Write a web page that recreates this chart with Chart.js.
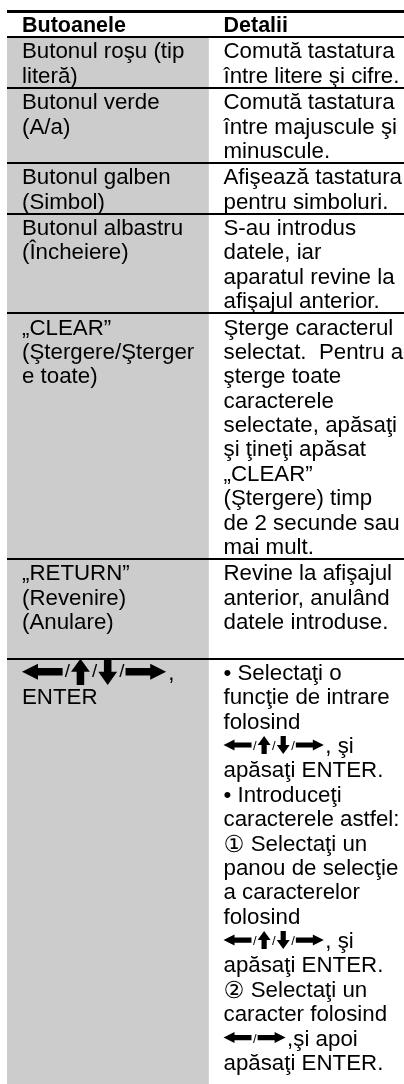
<!DOCTYPE html>
<html>
<head>
<meta charset="utf-8">
<script src="https://cdn.jsdelivr.net/npm/chart.js"></script>
<style>
  html, body { margin: 0; padding: 0; background: #fff; overflow: hidden; }
  #wrap { position: relative; width: 410px; height: 1084px; }
</style>
</head>
<body>
<div id="wrap"><canvas id="table"></canvas></div>
<script>
// ========== DATA ==========
const columns = ["Butoanele", "Detalii"];

const buttons = [
  ["Butonul roşu (tip", "literă)"],
  ["Butonul verde", "(A/a)"],
  ["Butonul galben", "(Simbol)"],
  ["Butonul albastru", "(Încheiere)"],
  ["„CLEAR”", "(Ştergere/Şterger", "e toate)"],
  ["„RETURN”", "(Revenire)", "(Anulare)"],
  ["←/↑/↓/→,", "ENTER"],
];

const details = [
  ["Comută tastatura", "între litere şi cifre."],
  ["Comută tastatura", "între majuscule şi", "minuscule."],
  ["Afişează tastatura", "pentru simboluri."],
  ["S-au introdus", "datele, iar", "aparatul revine la", "afişajul anterior."],
  ["Şterge caracterul", "selectat.  Pentru a", "şterge toate", "caracterele",
   "selectate, apăsaţi", "şi ţineţi apăsat", "„CLEAR”", "(Ştergere) timp",
   "de 2 secunde sau", "mai mult."],
  ["Revine la afişajul", "anterior, anulând", "datele introduse.", ""],
  ["• Selectaţi o", "funcţie de intrare", "folosind", "←/↑/↓/→, şi",
   "apăsaţi ENTER.", "• Introduceţi", "caracterele astfel:", "① Selectaţi un",
   "panou de selecţie", "a caracterelor", "folosind", "←/↑/↓/→, şi",
   "apăsaţi ENTER.", "② Selectaţi un", "caracter folosind", "←/→,şi apoi",
   "apăsaţi ENTER."],
];

// ========== LAYOUT (line units on the y scale) ==========
const ROW_PAD = 0.08;
const TAIL = 0.36;
const FONT = '"Liberation Sans", Arial, sans-serif';
const FS = 22.3;

const rows = [[[columns[0]], [columns[1]]]].concat(buttons.map((b, i) => [b, details[i]]));
const rowEdges = [0];
rows.forEach((r) => {
  const n = Math.max(r[0].length, r[1].length);
  rowEdges.push(rowEdges[rowEdges.length - 1] + n + ROW_PAD);
});
const yMax = rowEdges[rowEdges.length - 1] + TAIL;

// ========== DRAW HELPERS ==========
function drawArrow(ctx, dir, x, cy, s) {
  ctx.beginPath();
  if (dir === "←" || dir === "→") {
    const L = 28 * s, hl = 11 * s, hh = 5.5 * s, t = 2.6 * s;
    const pts = [[0, -t], [L - hl, -t], [L - hl, -hh], [L, 0], [L - hl, hh], [L - hl, t], [0, t]];
    pts.forEach(([px, py], i) => {
      const X = dir === "→" ? x + px : x + L - px;
      i ? ctx.lineTo(X, cy + py) : ctx.moveTo(X, cy + py);
    });
    ctx.closePath();
    ctx.fill();
    return L + 1.5 * s;
  }
  const H = 18 * s, hl = 9 * s, hw = 6.5 * s, t = 2.6 * s;
  const cx = x + hw;
  const pts = [[0, -H / 2], [hw, -H / 2 + hl], [t, -H / 2 + hl], [t, H / 2], [-t, H / 2], [-t, -H / 2 + hl], [-hw, -H / 2 + hl]];
  pts.forEach(([px, py], i) => {
    const Y = dir === "↑" ? cy + py : cy - py;
    i ? ctx.lineTo(cx + px, Y) : ctx.moveTo(cx + px, Y);
  });
  ctx.closePath();
  ctx.fill();
  return 2 * hw + 1.5 * s;
}

function drawRich(ctx, text, x0, base, fs, s) {
  const arrows = "←↑↓→";
  let x = x0, buf = "", prev = "";
  const flush = () => {
    if (!buf) return;
    ctx.fillText(buf, x, base);
    x += ctx.measureText(buf).width;
    buf = "";
  };
  for (const ch of text) {
    if (arrows.includes(ch)) {
      flush();
      x += drawArrow(ctx, ch, x, base - 0.36 * fs, s);
    } else if (ch === "/" && arrows.includes(prev)) {
      flush();
      const f = ctx.font;
      ctx.font = `${13 * s}px ${FONT}`;
      ctx.fillText("/", x, base - 0.12 * fs);
      x += ctx.measureText("/").width + 1;
      ctx.font = f;
    } else if (ch === "①" || ch === "②") {
      flush();
      const f = ctx.font;
      ctx.font = `${1.05 * fs}px "DejaVu Sans", sans-serif`;
      ctx.fillText(ch, x, base + 1);
      x += ctx.measureText(ch).width;
      ctx.font = f;
    } else {
      buf += ch;
    }
    prev = ch;
  }
  flush();
}

const tableText = {
  id: "tableText",
  afterDraw(chart) {
    const { ctx, scales: { x, y } } = chart;
    const colW = x.width / columns.length;
    ctx.save();
    ctx.fillStyle = "#000";
    ctx.textBaseline = "alphabetic";
    rows.forEach((row, r) => {
      row.forEach((lines, c) => {
        const fs = r === 0 ? 21.5 : FS;
        ctx.font = `${r === 0 ? "bold " : ""}${fs}px ${FONT}`;
        const left = x.getPixelForValue(c) - colW / 2 + 15;
        lines.forEach((txt, k) => {
          const cy = y.getPixelForValue(rowEdges[r] + ROW_PAD / 2 + k + 0.5);
          drawRich(ctx, txt, left, cy + 0.358 * fs, fs, c === 0 ? 1.45 : 1);
        });
      });
    });
    ctx.restore();
  },
};

// ========== CHART ==========
new Chart(document.getElementById("table"), {
  type: "bar",
  data: {
    labels: columns,
    datasets: [
      {
        data: [[rowEdges[1], yMax], null],
        backgroundColor: "#cccccc",
        borderWidth: 0,
        barPercentage: 1,
        categoryPercentage: 1,
      },
    ],
  },
  options: {
    responsive: true,
    maintainAspectRatio: false,
    animation: false,
    events: [],
    layout: { padding: { left: 7, top: 11, right: 0, bottom: 0 } },
    plugins: { legend: { display: false }, tooltip: { enabled: false } },
    scales: {
      x: { type: "category", display: false },
      y: {
        type: "linear",
        reverse: true,
        min: 0,
        max: yMax,
        afterBuildTicks: (scale) => {
          scale.ticks = rowEdges.slice(0, -1).map((v) => ({ value: v }));
        },
        ticks: { display: false },
        grid: {
          z: 1,
          color: "#000",
          lineWidth: (c) => (c.index === 0 ? 3 : 2),
          drawTicks: false,
        },
        border: { display: false },
      },
    },
  },
  plugins: [tableText],
});
</script>
</body>
</html>
